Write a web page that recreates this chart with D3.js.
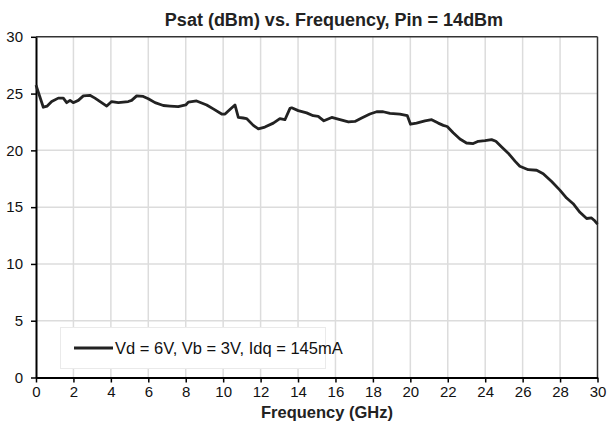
<!DOCTYPE html>
<html><head><meta charset="utf-8">
<script src="https://cdn.jsdelivr.net/npm/d3@7/dist/d3.min.js"></script>
<style>body{margin:0;background:#fff}svg{display:block}text{font-family:"Liberation Sans",Arial,sans-serif}</style>
</head><body><svg id="c" width="607" height="429"></svg>
<script>
const freq = [0,0.39,0.6,0.84,1.19,1.46,1.64,1.82,1.99,2.26,2.53,2.88,3.15,3.78,4.04,4.4,4.93,5.11,5.38,5.73,6.0,6.36,6.8,7.16,7.6,8.0,8.14,8.58,9.12,9.47,9.92,10.1,10.36,10.63,10.81,11.07,11.25,11.61,11.88,12.23,12.68,13.03,13.3,13.57,13.66,14.01,14.46,14.81,15.08,15.38,15.8,16.24,16.69,17.04,17.4,17.84,18.2,18.55,18.91,19.44,19.84,20.01,20.33,20.78,21.14,21.49,21.76,21.97,22.29,22.65,23.0,23.36,23.63,23.99,24.34,24.57,24.88,25.23,25.59,25.85,26.3,26.75,27.1,27.55,27.99,28.35,28.7,29.06,29.42,29.68,29.82,30];
const psat = [25.75,23.8,23.9,24.3,24.6,24.6,24.2,24.4,24.2,24.4,24.8,24.85,24.6,23.9,24.3,24.2,24.3,24.4,24.8,24.75,24.55,24.2,23.95,23.9,23.85,24.0,24.25,24.35,24.0,23.65,23.2,23.2,23.6,24.0,22.9,22.85,22.8,22.2,21.9,22.05,22.4,22.8,22.7,23.7,23.75,23.5,23.3,23.05,23.0,22.6,22.9,22.7,22.5,22.55,22.85,23.2,23.4,23.4,23.25,23.2,23.05,22.3,22.4,22.6,22.7,22.4,22.2,22.1,21.55,21.0,20.65,20.6,20.8,20.85,20.95,20.8,20.3,19.75,19.05,18.6,18.3,18.25,17.95,17.25,16.5,15.8,15.3,14.55,14.0,14.05,13.85,13.5];
const xTicks = [0,2,4,6,8,10,12,14,16,18,20,22,24,26,28,30];
const yTicks = [0,5,10,15,20,25,30];
const title = "Psat (dBm) vs. Frequency, Pin = 14dBm";
const xLabel = "Frequency (GHz)";
const seriesName = "Vd = 6V, Vb = 3V, Idq = 145mA";

const svg = d3.select("#c");
const L=36,R=597.5,T=36.8,B=377.5;
const x = d3.scaleLinear().domain([0,30]).range([L,R]);
const y = d3.scaleLinear().domain([0,30]).range([B,T]);

// grid
svg.append("g").selectAll("line").data(xTicks.slice(1,-1)).join("line")
  .attr("x1",d=>x(d)).attr("x2",d=>x(d)).attr("y1",T).attr("y2",B)
  .attr("stroke","#dcdcdc").attr("stroke-width",1.5);
svg.append("g").selectAll("line").data(yTicks.slice(1,-1)).join("line")
  .attr("y1",d=>y(d)).attr("y2",d=>y(d)).attr("x1",L).attr("x2",R)
  .attr("stroke","#dcdcdc").attr("stroke-width",1.5);

// frame top/right
svg.append("line").attr("x1",L).attr("x2",R).attr("y1",T).attr("y2",T).attr("stroke","#333").attr("stroke-width",1.5);
svg.append("line").attr("x1",R).attr("x2",R).attr("y1",T).attr("y2",B).attr("stroke","#333").attr("stroke-width",1.5);

// axes
const xa = svg.append("g").attr("transform",`translate(0,${B})`)
  .call(d3.axisBottom(x).tickValues(xTicks).tickSize(5).tickPadding(4).tickSizeOuter(0));
const ya = svg.append("g").attr("transform",`translate(${L},0)`)
  .call(d3.axisLeft(y).tickValues(yTicks).tickSize(5).tickPadding(8).tickSizeOuter(0));
[xa,ya].forEach(a=>{
  a.select(".domain").attr("stroke","#000").attr("stroke-width",2);
  a.selectAll(".tick line").attr("stroke","#000").attr("stroke-width",1.5);
  a.selectAll(".tick text").attr("font-size",15).attr("fill","#111").attr("font-family","'Liberation Sans',Arial,sans-serif");
});

// line
svg.append("path").datum(freq.map((f,i)=>[f,psat[i]]))
  .attr("fill","none").attr("stroke","#222").attr("stroke-width",2.8).attr("stroke-linejoin","round")
  .attr("d",d3.line().x(d=>x(d[0])).y(d=>y(d[1])));

// legend
svg.append("rect").attr("x",60.5).attr("y",327.5).attr("width",265).attr("height",41)
  .attr("fill","#fff").attr("stroke","#eaeaea").attr("stroke-width",1);
svg.append("line").attr("x1",74).attr("x2",113).attr("y1",348).attr("y2",348).attr("stroke","#222").attr("stroke-width",2.8);
svg.append("text").attr("x",115).attr("y",354).attr("font-size",16.5).attr("fill","#111").text(seriesName);

// titles
svg.append("text").attr("x",334).attr("y",26).attr("text-anchor","middle").attr("font-size",18).attr("font-weight","bold").attr("fill","#222").text(title);
svg.append("text").attr("x",327).attr("y",418).attr("text-anchor","middle").attr("font-size",16.5).attr("font-weight","bold").attr("fill","#222").text(xLabel);
</script></body></html>
